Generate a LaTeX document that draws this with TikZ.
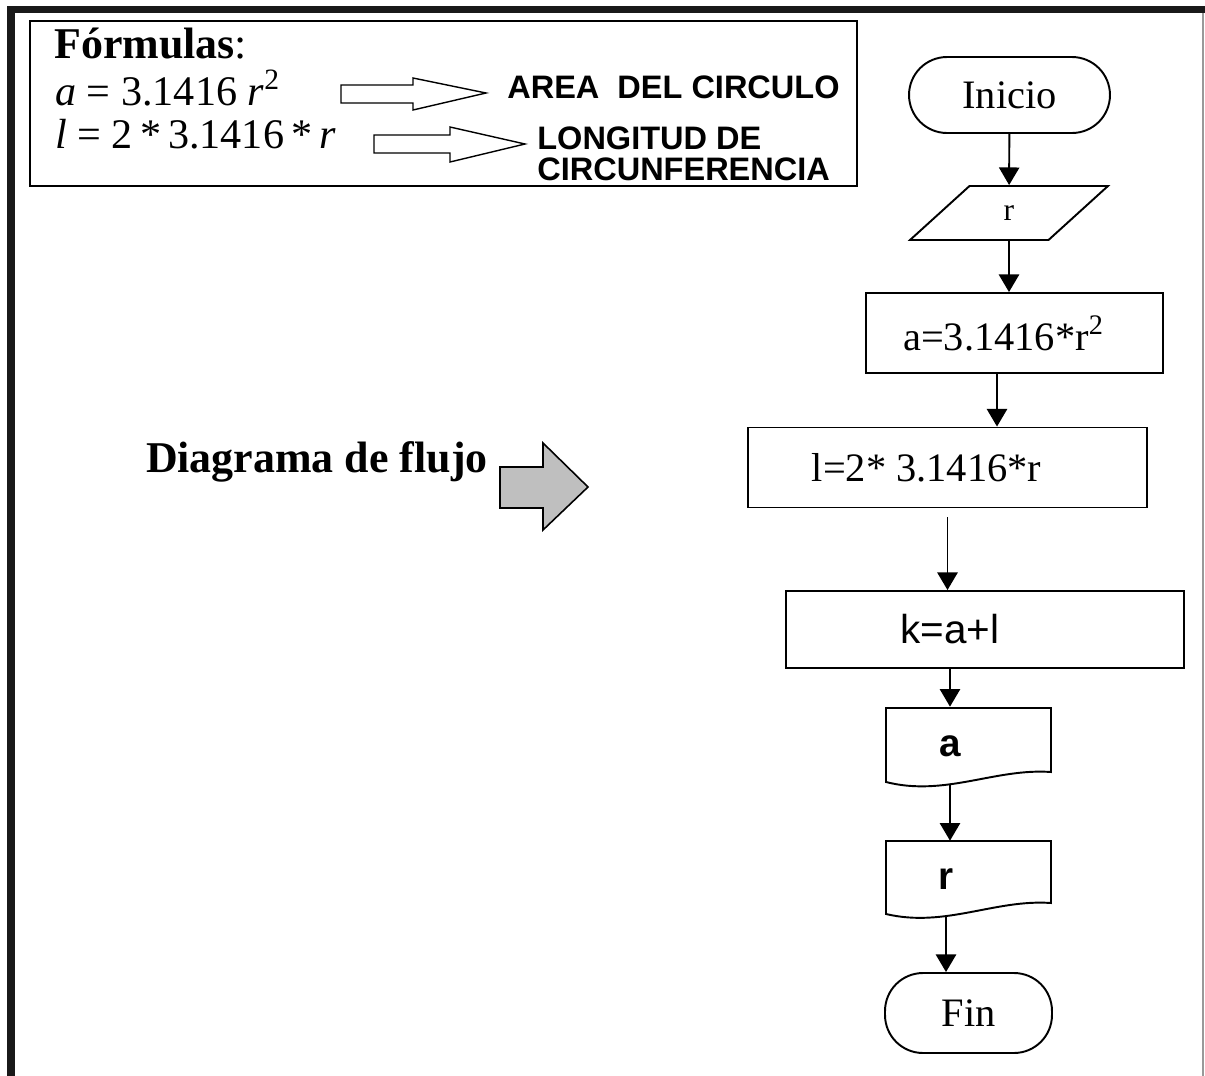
\documentclass[tikz,border=0pt]{standalone}
\usepackage{fontspec}
\setmainfont{Liberation Serif}
\setsansfont{Liberation Sans}
\usetikzlibrary{arrows.meta}
\usetikzlibrary{shapes.geometric}

\tikzset{
  caja/.style={draw, line width=1.1pt, minimum height=1.6cm, inner sep=0pt},
  term/.style={caja, rounded corners=0.76cm},
  flecha/.style={line width=1.1pt, -{Triangle[length=10pt,width=11.5pt]}},
  hueca/.style={line width=0.8pt},
  rotulo/.style={font=\sffamily\bfseries\fontsize{18.5}{20}\selectfont, inner sep=0pt},
}

\begin{document}
\begin{tikzpicture}[x=0.02cm, y=-0.02cm, font=\fontsize{23}{26}\selectfont]
\useasboundingbox (0,0) rectangle (1205,1076);
% marco de la hoja
\fill[black!90] (7,6) rectangle (1205,13);
\fill[black!90] (7,6) rectangle (15,1076);
\draw[black!40, line width=1pt] (1203,13) -- (1203,1076);

% cuadro de formulas
\draw[line width=1.1pt] (30,21) rectangle (857,186);
\node[anchor=base west, inner sep=0pt, font=\fontsize{25}{27}\selectfont] (tit) at (54,58) {\textbf{Fórmulas}:};
\node[anchor=base west, inner sep=0pt, font=\fontsize{24}{26}\selectfont] (fa) at (55,105) {\textit{a} = 3.1416\ \textit{r}\textsuperscript{2}};
\node[anchor=base west, inner sep=0pt, font=\fontsize{24}{26}\selectfont] (fl) at (55,148) {\textit{l} = 2\,*\,3.1416\,*\,\textit{r}};
\draw[hueca] (341,85) -- (413,85) -- (413,78) -- (486,93) -- (413,110) -- (413,103) -- (341,103) -- cycle;
\draw[hueca] (374,135) -- (450,135) -- (450,127) -- (525,144) -- (450,162) -- (450,153) -- (374,153) -- cycle;
\node[rotulo, anchor=west] (area) at (507,87) {AREA\ \ DEL CIRCULO};
\node[rotulo, anchor=north west, align=left, font=\sffamily\bfseries\fontsize{18.5}{32}\selectfont] (longi) at (537,126) {LONGITUD DE\\[-14pt]CIRCUNFERENCIA};

% flecha gris
\node[anchor=east, inner sep=0pt, font=\bfseries\fontsize{25}{27}\selectfont] (diag) at (488,462) {Diagrama de flujo};
\filldraw[fill=black!25, line width=0.9pt] (500,467) -- (543,467) -- (543,443) -- (588,487) -- (543,530) -- (543,508) -- (500,508) -- cycle;

% diagrama
\node[term, minimum width=4.02cm, minimum height=1.52cm] (inicio) at (1009.5,95) {Inicio};
\node[draw, line width=1.1pt, trapezium, trapezium left angle=62, trapezium right angle=118,
      trapezium stretches=true, minimum width=3.96cm, minimum height=1.08cm, inner sep=0pt,
      font=\fontsize{18}{20}\selectfont] (leer) at (1009,213) {r};
\node[caja, minimum width=5.94cm] (calca) at (1014.5,333) {\hspace*{-0.44cm}a=3.1416*r\textsuperscript{2}};
\node[caja, minimum width=7.98cm] (calcl) at (947.5,467.5) {\hspace*{-0.84cm}l=2* 3.1416*r};
\node[caja, minimum width=7.96cm, minimum height=1.54cm, font=\sffamily\fontsize{23}{26}\selectfont] (calck) at (985,629.5) {\hspace*{-1.4cm}k=a+l};

% salidas impresas
\node[minimum height=1.56cm, inner sep=0pt, font=\sffamily\bfseries\fontsize{22}{24}\selectfont] (sala) at (950,746) {a};
\draw[line width=1.1pt] (886,708) -- (1051,708) -- (1051,772) .. controls (995,768) and (945,797) .. (886,782) -- cycle;
\node[minimum height=1.52cm, inner sep=0pt, font=\sffamily\bfseries\fontsize{22}{24}\selectfont] (salr) at (946,879) {r};
\draw[line width=1.1pt] (886,841) -- (1051,841) -- (1051,903) .. controls (995,899) and (945,928) .. (886,914) -- cycle;

\node[term, minimum width=3.34cm] (fin) at (968.5,1013) {Fin};

\draw[flecha] (inicio) -- (leer);
\draw[flecha] (leer.south) -- (leer.south |- calca.north);
\draw[flecha] ([xshift=-0.35cm]calca.south) -- ([xshift=-0.35cm]calca.south |- calcl.north);
\draw[flecha, shorten <=0.18cm] (calcl.south) -- (calcl.south |- calck.north);
\draw[flecha] (sala.north |- calck.south) -- (sala.north);
\draw[flecha] (sala.south) -- (sala.south |- salr.north);
\draw[flecha] (salr.south) -- (salr.south |- fin.north);
\end{tikzpicture}
\end{document}
